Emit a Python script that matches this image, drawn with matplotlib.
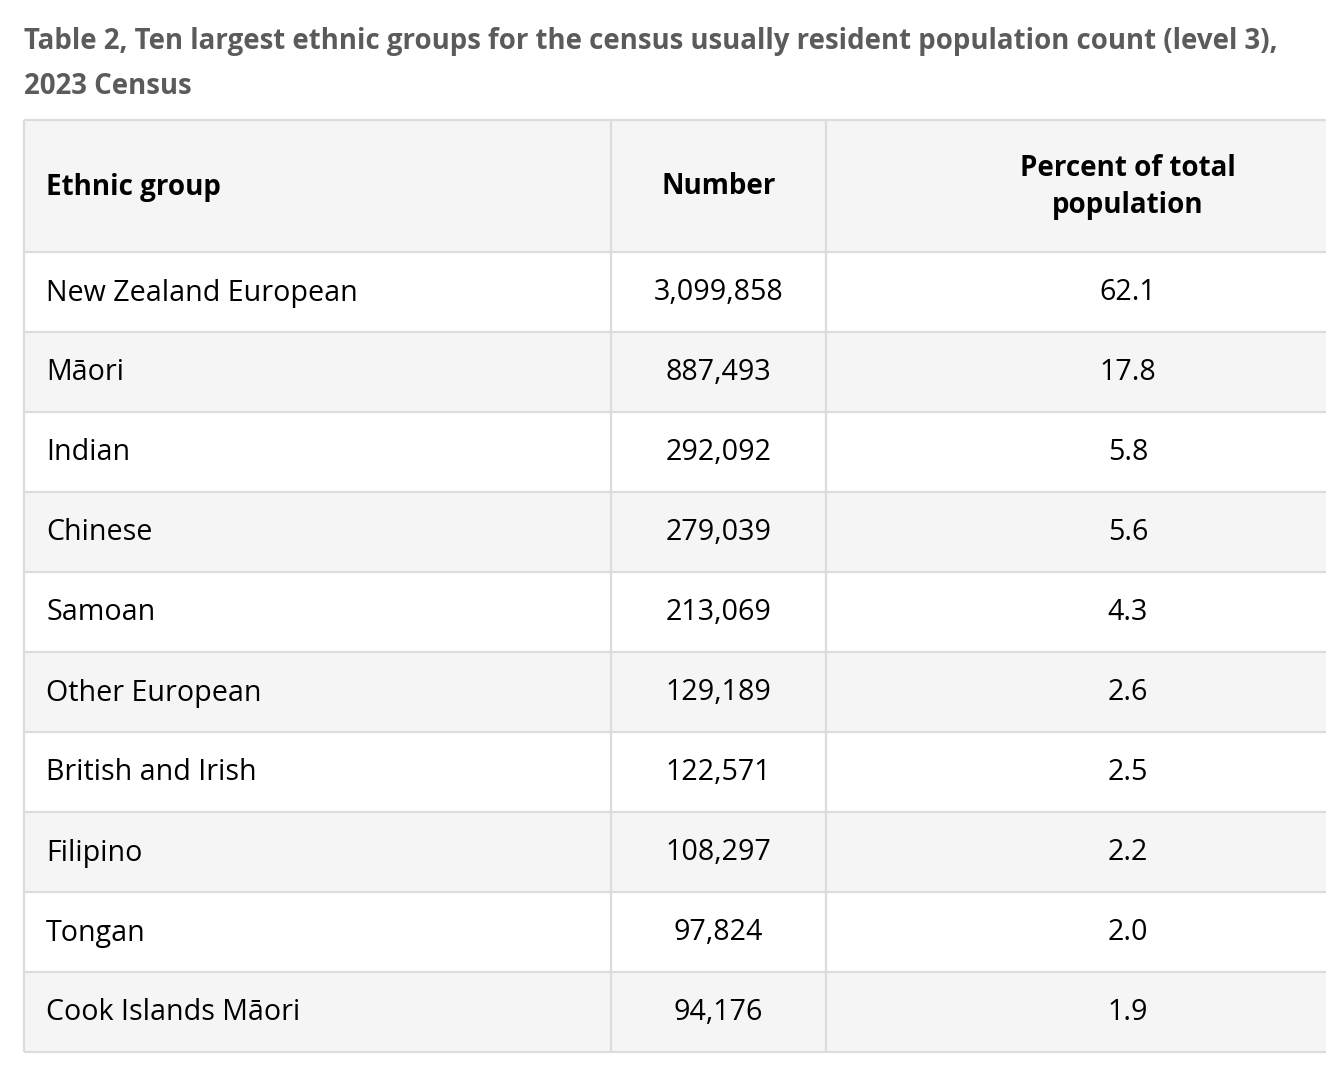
import matplotlib
matplotlib.use("Agg")
import matplotlib.pyplot as plt
from matplotlib.patches import Rectangle

# Dados da tabela
titulo = ["Table 2, Ten largest ethnic groups for the census usually resident population count (level 3),",
          "2023 Census"]
cabecalho = ["Ethnic group", "Number", "Percent of total\npopulation"]
grupos = ["New Zealand European", "Māori", "Indian", "Chinese", "Samoan",
          "Other European", "British and Irish", "Filipino", "Tongan", "Cook Islands Māori"]
numeros = ["3,099,858", "887,493", "292,092", "279,039", "213,069",
           "129,189", "122,571", "108,297", "97,824", "94,176"]
percentuais = ["62.1", "17.8", "5.8", "5.6", "4.3", "2.6", "2.5", "2.2", "2.0", "1.9"]

W, H = 1326, 1070
FONTE = "Open Sans"
TAM_TITULO = 19.9
TAM_CAB = 20.0
TAM = 20.6
COR_LINHA = "#dcdcdc"
COR_CINZA = "#f5f5f5"

fig = plt.figure(figsize=(W / 100, H / 100), dpi=100)
ax = fig.add_axes([0, 0, 1, 1])
ax.set_xlim(0, W)
ax.set_ylim(H, 0)
ax.axis("off")

# Titulo
ax.text(24, 41, titulo[0], fontsize=TAM_TITULO, fontweight="bold", color="#5b5b5b",
        family=FONTE, va="center", ha="left")
ax.text(24, 86, titulo[1], fontsize=TAM_TITULO, fontweight="bold", color="#5b5b5b",
        family=FONTE, va="center", ha="left")

# Geometria da tabela
x0, x1, x2, x3 = 24, 611, 826, 1340
y_top, y_head = 120, 252
altura = 80

# Fundo do cabecalho e das linhas
ax.add_patch(Rectangle((x0, y_top), x3 - x0, y_head - y_top, facecolor=COR_CINZA,
                       edgecolor="none"))
for i in range(len(grupos)):
    y = y_head + i * altura
    cor = "white" if i % 2 == 0 else COR_CINZA
    ax.add_patch(Rectangle((x0, y), x3 - x0, altura, facecolor=cor, edgecolor="none"))

# Bordas
y_fim = y_head + len(grupos) * altura
for i in range(len(grupos) + 2):
    y = y_top if i == 0 else y_head + (i - 1) * altura
    ax.plot([x0, x3], [y, y], color=COR_LINHA, linewidth=1.6, solid_capstyle="butt")
for x in (x0, x1, x2):
    ax.plot([x, x], [y_top, y_fim], color=COR_LINHA, linewidth=1.6, solid_capstyle="butt")

# Cabecalho
yc = (y_top + y_head) / 2 + 1
ax.text(46, yc, cabecalho[0], fontsize=TAM_CAB, fontweight="bold", family=FONTE,
        va="center", ha="left", color="black")
ax.text((x1 + x2) / 2, yc, cabecalho[1], fontsize=TAM_CAB, fontweight="bold", family=FONTE,
        va="center", ha="center", color="black")
ax.text(1128, yc, cabecalho[2], fontsize=TAM_CAB, fontweight="bold", family=FONTE,
        va="center", ha="center", color="black", linespacing=1.35)

# Corpo
for i, (g, n, p) in enumerate(zip(grupos, numeros, percentuais)):
    y = y_head + i * altura + altura / 2 + 1
    ax.text(46, y, g, fontsize=TAM, family=FONTE, va="center", ha="left", color="black")
    ax.text((x1 + x2) / 2, y, n, fontsize=TAM, family=FONTE, va="center", ha="center",
            color="black")
    ax.text(1128, y, p, fontsize=TAM, family=FONTE, va="center", ha="center", color="black")

fig.savefig("out.png", dpi=100, facecolor="white")
